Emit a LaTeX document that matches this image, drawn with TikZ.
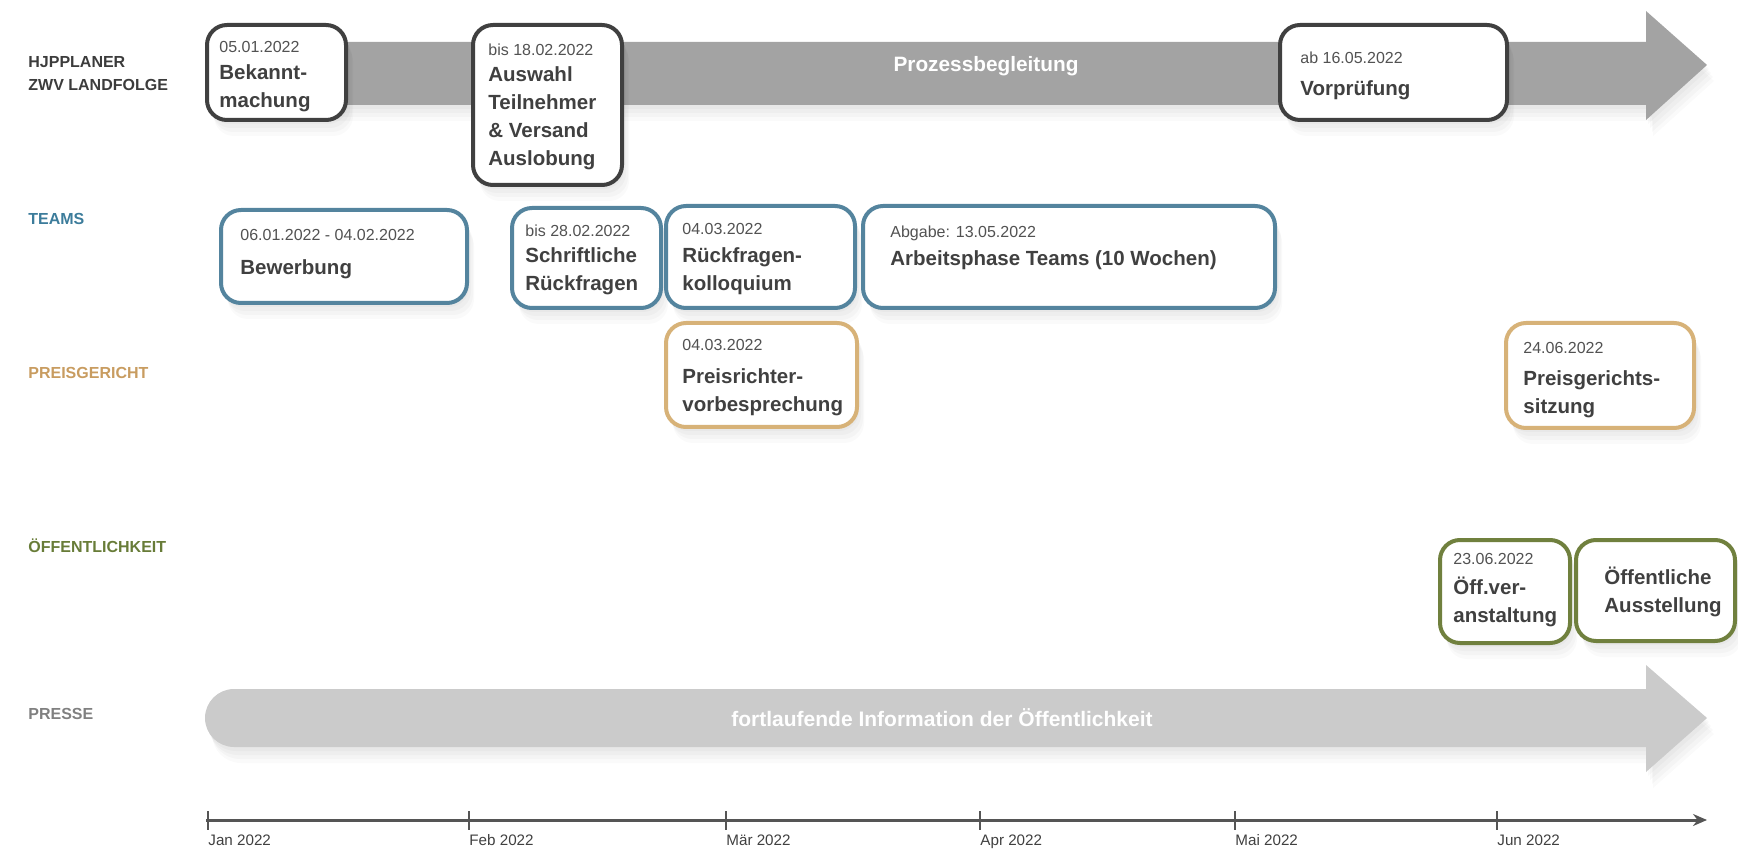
\documentclass[tikz,border=0pt]{standalone}
\usepackage{fontspec}
\setmainfont{Liberation Sans}
\usetikzlibrary{fit,arrows.meta}
\definecolor{darkc}{RGB}{64,64,64}
\definecolor{bluec}{RGB}{84,132,158}
\definecolor{tanc}{RGB}{215,178,120}
\definecolor{greenc}{RGB}{112,128,62}
\definecolor{bluelab}{RGB}{60,124,155}
\definecolor{tanlab}{RGB}{200,156,96}
\definecolor{greenlab}{RGB}{104,124,56}
\definecolor{graylab}{RGB}{128,128,128}
\definecolor{hjpc}{RGB}{60,60,60}
\definecolor{txtc}{RGB}{64,64,64}
\definecolor{datc}{RGB}{82,82,82}
\definecolor{topc}{RGB}{163,163,163}
\definecolor{pressc}{RGB}{203,203,203}
\definecolor{axisc}{RGB}{85,85,85}
\begin{document}
\begin{tikzpicture}[x=0.5pt,y=-0.5pt,
  shad/.style={
    preaction={fill=black, fill opacity=0.025, transform canvas={xshift=1pt,yshift=-2pt}},
    preaction={fill=black, fill opacity=0.025, transform canvas={xshift=2pt,yshift=-4pt}},
    preaction={fill=black, fill opacity=0.025, transform canvas={xshift=3pt,yshift=-6pt}},
    preaction={fill=black, fill opacity=0.02, transform canvas={xshift=3.5pt,yshift=-8pt}}},
  box/.style={draw, fill=white, line width=2pt, rounded corners=10pt, inner sep=0pt, shad},
  dbox/.style={box, draw=darkc},
  bbox/.style={box, draw=bluec},
  tbox/.style={box, draw=tanc},
  gbox/.style={box, draw=greenc},
  ttl/.style={anchor=base west, inner sep=0pt, font=\fontsize{10.25}{12}\selectfont\bfseries, text=txtc},
  dat/.style={anchor=base west, inner sep=0pt, font=\fontsize{8}{10}\selectfont, text=datc},
  lane/.style={anchor=west, inner sep=0pt, font=\fontsize{8}{10}\selectfont\bfseries},
  mon/.style={anchor=base west, inner sep=0pt, font=\fontsize{7.6}{9}\selectfont, text=txtc},
  bandtxt/.style={inner sep=0pt, font=\fontsize{10.4}{12}\selectfont\bfseries, text=white},
  tick/.style={draw=axisc, line width=1.2pt}]
\useasboundingbox (0,0) rectangle (1738,849);

% lane labels
\node[lane, text=hjpc] (l1a) at (28,62) {HJPPLANER};
\node[lane, text=hjpc] (l1b) at (28,85) {ZWV LANDFOLGE};
\node[lane, text=bluelab] (l2) at (28,219) {TEAMS};
\node[lane, text=tanlab] (l3) at (28,373) {PREISGERICHT};
\node[lane, text=greenlab] (l4) at (28,546) {ÖFFENTLICHKEIT};
\node[lane, text=graylab] (l5) at (28,714) {PRESSE};

% top process arrow
\fill[topc, shad] (230,42) -- (1646,42) -- (1646,11) -- (1707,65) -- (1646,120) -- (1646,105) -- (230,105) -- cycle;
\node[bandtxt] (proz) at (986,66) {Prozessbegleitung};

% press arrow
\fill[pressc, shad] (1707,718) -- (1646,665) -- (1646,689) -- (234,689)
  arc[start angle=270, end angle=90, radius=29] -- (1646,747) -- (1646,772) -- cycle;
\node[bandtxt, font=\fontsize{10.5}{12}\selectfont\bfseries] (fort) at (942,718) {fortlaufende Information der Öffentlichkeit};

% HJPPLANER boxes
\node[dbox, fit={(207,25) (346,120)}] (b1) {};
\node[dbox, fit={(473,25) (622,185)}] (b2) {};
\node[dbox, fit={(1280,25) (1507,120)}] (b3) {};
% TEAMS boxes
\node[bbox, fit={(221,210) (467,303)}] (t1) {};
\node[bbox, fit={(512,208) (661,308)}] (t2) {};
\node[bbox, fit={(666,206) (855,308)}] (t3) {};
\node[bbox, fit={(863,206) (1275,308)}] (t4) {};
% PREISGERICHT boxes
\node[tbox, fit={(666,323) (857,427)}] (p1) {};
\node[tbox, fit={(1506,323) (1694,428)}] (p2) {};
% OEFFENTLICHKEIT boxes
\node[gbox, fit={(1440,540) (1570,643)}] (o1) {};
\node[gbox, fit={(1576,540) (1735,641)}] (o2) {};

% texts
\node[dat] (b1d) at (219,53) {05.01.2022};
\node[ttl] (b1a) at (219,80) {Bekannt-};
\node[ttl] (b1b) at (219,108) {machung};

\node[dat] (b2d) at (488,56) {bis 18.02.2022};
\node[ttl] (b2a) at (488,82) {Auswahl};
\node[ttl] (b2b) at (488,110) {Teilnehmer};
\node[ttl] (b2c) at (488,138) {\& Versand};
\node[ttl] (b2e) at (488,166) {Auslobung};

\node[dat] (b3d) at (1300,64) {ab 16.05.2022};
\node[ttl] (b3a) at (1300,96) {Vorprüfung};

\node[dat] (t1d) at (240,241) {06.01.2022 - 04.02.2022};
\node[ttl] (t1a) at (240,275) {Bewerbung};

\node[dat] (t2d) at (525,237) {bis 28.02.2022};
\node[ttl] (t2a) at (525,263) {Schriftliche};
\node[ttl] (t2b) at (525,291) {Rückfragen};

\node[dat] (t3d) at (682,235) {04.03.2022};
\node[ttl] (t3a) at (682,263) {Rückfragen-};
\node[ttl] (t3b) at (682,291) {kolloquium};

\node[dat] (t4d) at (890,238) {Abgabe: 13.05.2022};
\node[ttl] (t4a) at (890,266) {Arbeitsphase Teams (10 Wochen)};

\node[dat] (p1d) at (682,351) {04.03.2022};
\node[ttl] (p1a) at (682,384) {Preisrichter-};
\node[ttl] (p1b) at (682,412) {vorbesprechung};

\node[dat] (p2d) at (1523,354) {24.06.2022};
\node[ttl] (p2a) at (1523,386) {Preisgerichts-};
\node[ttl] (p2b) at (1523,414) {sitzung};

\node[dat] (o1d) at (1453,564) {23.06.2022};
\node[ttl] (o1a) at (1453,594) {Öff.ver-};
\node[ttl] (o1b) at (1453,622) {anstaltung};

\node[ttl] (o2a) at (1604,584) {Öffentliche};
\node[ttl] (o2b) at (1604,612) {Ausstellung};

% time axis
\coordinate (ax0) at (206,820);
\coordinate (ax1) at (1707,820);
\draw[axisc, line width=1.5pt, -{Stealth[length=7pt,width=6pt]}] (ax0) -- (ax1);
\foreach \x/\m [count=\i] in {208/Jan 2022,469/Feb 2022,726/Mär 2022,980/Apr 2022,1235/Mai 2022,1497/Jun 2022}{
  \draw[tick] (\x,811) -- (\x,830);
  \node[mon] (m\i) at (\x,845) {\m};
}
\end{tikzpicture}
\end{document}
